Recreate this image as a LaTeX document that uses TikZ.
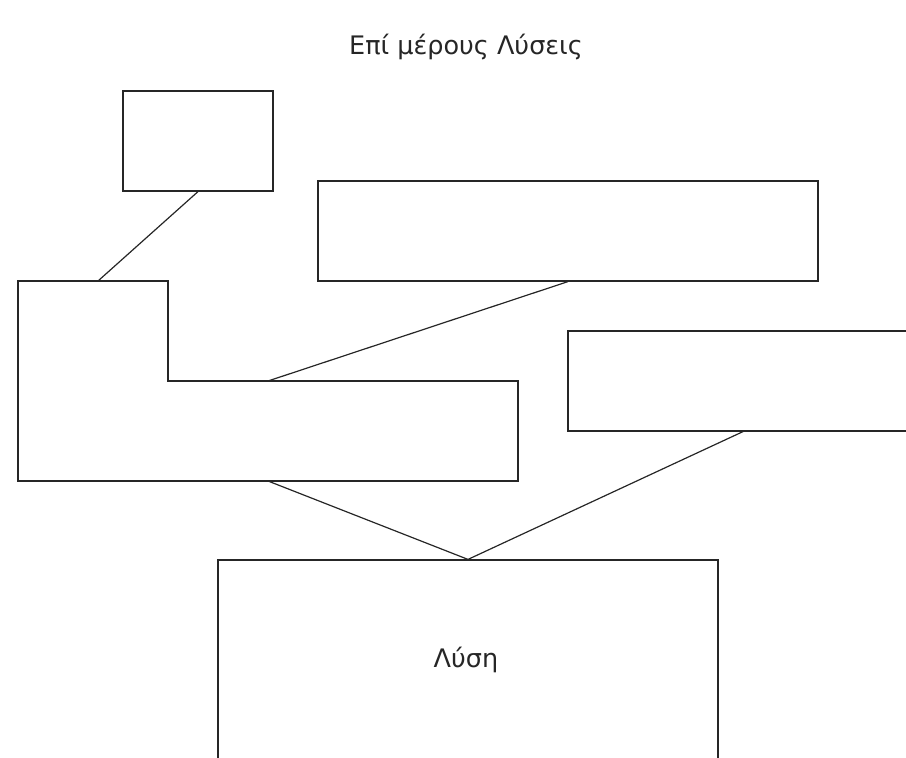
\documentclass[tikz,border=0pt]{standalone}
\usepackage{fontspec}
\setmainfont{DejaVu Sans}
\usetikzlibrary{positioning}

\tikzset{
  part/.style={draw=black!85, line width=1.2pt, inner sep=0pt, fill=white},
  link/.style={draw=black!85, line width=1.2pt},
  label/.style={text=black!85, font=\fontsize{25.5}{30}\selectfont}
}

\begin{document}
\begin{tikzpicture}[x=1pt, y=-1pt]
\useasboundingbox (0,0) rectangle (906,758);
\clip (0,0) rectangle (906,758);
\node[label] (title) at (466,47) {Επί μέρους Λύσεις};
% partial solutions
\node[part, minimum width=150pt, minimum height=100pt] (small) at (198,141) {};
\node[part, minimum width=500pt, minimum height=100pt] (wide) at (568,231) {};
\node[part, minimum width=350pt, minimum height=100pt] (right) at (743,381) {};
% L-shaped part
\draw[link] (18,281) coordinate (ltop) -- (168,281) -- (168,381) -- (518,381)
    -- (518,481) -- (18,481) -- cycle;
\coordinate (lnotch) at (268,381);
\coordinate (lbase) at (268,481);
\coordinate (lhead) at (98,281);
% solution
\node[part, minimum width=500pt, minimum height=200pt] (sol) at (468,660) {};
\node[label] (soltext) at (466,660) {Λύση};
\draw[link] (small.south) -- (lhead);
\draw[link] (wide.south) -- (lnotch);
\draw[link] (lbase) -- (sol.north);
\draw[link] (right.south) -- (sol.north);
\end{tikzpicture}
\end{document}
